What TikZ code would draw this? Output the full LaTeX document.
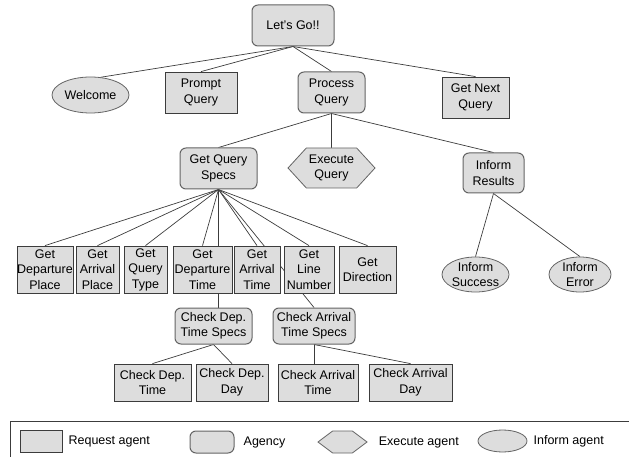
\documentclass[tikz,border=0pt]{standalone}
\usepackage{fontspec}
\setmainfont{Liberation Sans}
\usepackage{tikz}
\usetikzlibrary{positioning, shapes.geometric, shapes.symbols, backgrounds}

\definecolor{agentfill}{RGB}{221,221,221}
\definecolor{agentline}{RGB}{60,60,60}
\definecolor{agencyline}{RGB}{100,100,100}

\begin{document}
\begin{tikzpicture}[x=1pt, y=-1pt,
    every node/.style={font=\fontsize{12.5}{15.5}\selectfont, align=center, inner sep=0pt},
    boxsize/.style 2 args={minimum width=#1pt, minimum height=#2pt},
    request/.style={rectangle, draw=agentline, fill=agentfill, line width=0.8pt},
    agency/.style={rectangle, rounded corners=6pt, draw=agencyline, fill=agentfill, line width=1pt},
    execute/.style={signal, signal to=east and west, draw=agencyline, fill=agentfill, line width=0.8pt},
    inform/.style={ellipse, draw=agencyline, fill=agentfill, line width=0.8pt},
    link/.style={draw=agentline, line width=0.7pt}]
    \useasboundingbox (0,0) rectangle (629,457);

    \node[agency, boxsize={82}{41}] (letsgo) at (293,25.5) {Let's Go!!};
    \node[inform, boxsize={77}{36}] (welcome) at (90.5,95) {Welcome};
    \node[request, boxsize={72}{41}] (prompt) at (201,92.5) {Prompt\\Query};
    \node[agency, boxsize={67}{41}] (process) at (331.5,92.5) {Process\\Query};
    \node[request, boxsize={67}{41}] (nextquery) at (475.5,97.5) {Get Next\\Query};

    \node[agency, boxsize={77}{41}] (queryspecs) at (218.5,168.5) {Get Query\\Specs};
    \node[execute, signal pointer angle=95, boxsize={87}{40}] (execquery) at (331.5,168) {Execute\\Query};
    \node[agency, boxsize={61}{40}] (results) at (493.5,173) {Inform\\Results};

    \foreach \nm/\cx/\bw/\lbl in {deppl/45/56/{Get\\Departure\\Place}, arrpl/97.5/43/{Get\\Arrival\\Place},
        qtype/145.5/43/{Get\\Query\\Type}, deptime/202.5/59/{Get\\Departure\\Time},
        arrtime/257/46/{Get\\Arrival\\Time}, linenum/309/50/{Get\\Line\\Number},
        direction/367.5/57/{Get\\Direction}}
        \node[request, boxsize={\bw}{47}] (\nm) at (\cx,269.5) {\lbl};
    \node[inform, boxsize={67}{35}] (success) at (475.5,274.5) {Inform\\Success};
    \node[inform, boxsize={62}{35}] (error) at (580,274.5) {Inform\\Error};

    \node[agency, boxsize={77}{36}] (depspecs) at (213.5,326) {Check Dep.\\Time Specs};
    \node[agency, boxsize={82}{36}] (arrspecs) at (314,326) {Check Arrival\\Time Specs};
    \foreach \nm/\cx/\bw/\lbl in {checkdeptime/152.5/77/{Check Dep.\\Time}, checkdepday/232/72/{Check Dep.\\Day},
        checkarrtime/318/80/{Check Arrival\\Time}, checkarrday/410.5/83/{Check Arrival\\Day}}
        \node[request, boxsize={\bw}{37}] (\nm) at (\cx,382.5) {\lbl};

    \begin{pgfonlayer}{background}
        \draw[link] (letsgo.south) -- (welcome.60);
        \foreach \c in {prompt, process, nextquery}
            \draw[link] (letsgo.south) -- (\c.north);
        \foreach \c in {queryspecs, execquery, results}
            \draw[link] (process.south) -- (\c.north);
        \foreach \c in {deppl, arrpl, qtype, deptime, arrtime, linenum, direction, arrspecs}
            \draw[link] (queryspecs.south) -- (\c.north);
        \draw[link] (queryspecs.south) -- (queryspecs.south |- depspecs.north);
        \foreach \c in {success, error}
            \draw[link] (results.south) -- (\c.north);
        \foreach \c in {checkdeptime, checkdepday}
            \draw[link] (depspecs.south) -- (\c.north);
        \draw[link] (arrspecs.south) -- (arrspecs.south |- checkarrtime.north);
        \draw[link] (arrspecs.south) -- (checkarrday.north);
    \end{pgfonlayer}

    \draw[agentline, line width=0.8pt] (640,421) -| (10,470);
    \node[request, boxsize={42}{22}] (legreq) at (41,441) {};
    \node[right=6pt of legreq] (legreqtext) {Request agent};
    \node[agency, boxsize={44}{22}] (legagency) at (212,442) {};
    \node[right=9pt of legagency] (legagencytext) {Agency};
    \node[execute, signal pointer angle=74, boxsize={49}{22}] (legexec) at (342.5,442) {};
    \node[right=11pt of legexec] (legexectext) {Execute agent};
    \node[inform, boxsize={49}{22}] (leginform) at (502.5,441) {};
    \node[right=6pt of leginform] (leginformtext) {Inform agent};
\end{tikzpicture}
\end{document}
